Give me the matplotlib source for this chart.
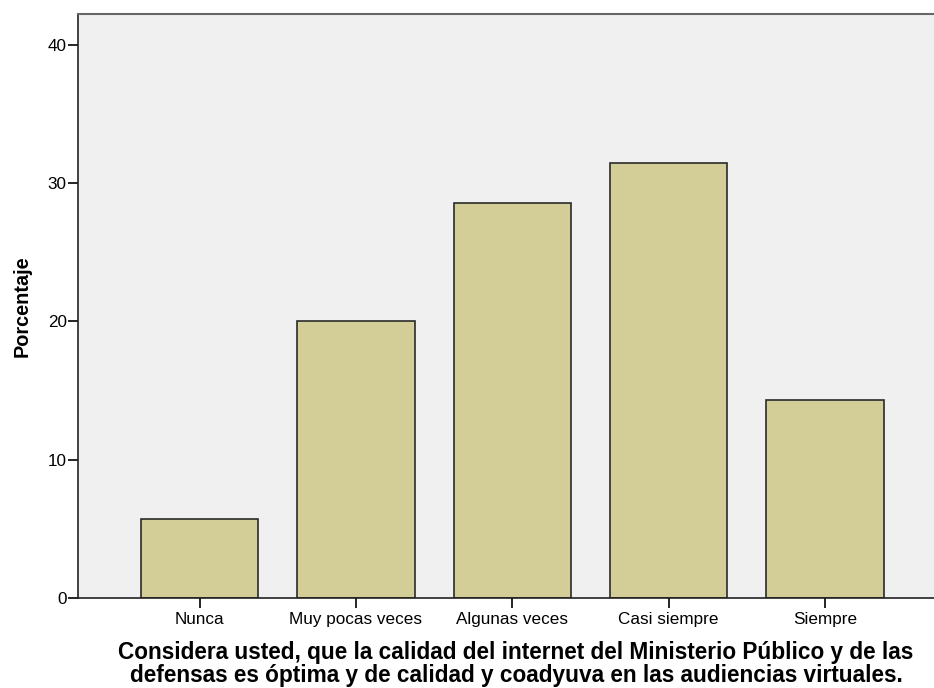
import matplotlib.pyplot as plt
import numpy as np

plt.rcParams["font.family"] = ["Liberation Sans", "DejaVu Sans"]

categories = ["Nunca", "Muy pocas veces", "Algunas veces", "Casi siempre", "Siempre"]
porcentaje = [5.71, 20.0, 28.57, 31.43, 14.29]
y_ticks = [0, 10, 20, 30, 40]

xlabel = ("Considera usted, que la calidad del internet del Ministerio Público y de las\n"
          "defensas es óptima y de calidad y coadyuva en las audiencias virtuales.")

fig = plt.figure(figsize=(9.34, 6.88), dpi=100)
ax = fig.add_axes([0.0835, 0.1308, 0.93, 0.849])
ax.set_facecolor("#f0f0f0")

x = np.arange(len(categories))
ax.bar(x, porcentaje, width=0.75, color="#d3ce98", edgecolor="#2a2a2a", linewidth=1.2, zorder=2)

ax.set_xlim(-0.777, len(categories) - 1 + 0.777)
ax.set_ylim(0, 42.24)
ax.set_yticks(y_ticks)
ax.set_xticks(x)
ax.set_xticklabels(categories, fontsize=12.3)
ax.tick_params(axis="y", labelsize=12.3, length=7, width=1.2, pad=1)
ax.tick_params(axis="x", length=7, width=1.2, pad=3)

for side in ["left", "bottom"]:
    ax.spines[side].set_color("#222222")
    ax.spines[side].set_linewidth(1.2)
ax.spines["top"].set_color("#666666")
ax.spines["top"].set_linewidth(1.5)
ax.spines["right"].set_visible(False)

ax.set_ylabel("Porcentaje", fontsize=14.3, fontweight="bold", labelpad=12)
fig.text(516 / 934, 1 - 664 / 688, xlabel, ha="center", va="center",
         fontsize=16.3, fontweight="bold", linespacing=1.0)

fig.savefig("out.png", dpi=100)
